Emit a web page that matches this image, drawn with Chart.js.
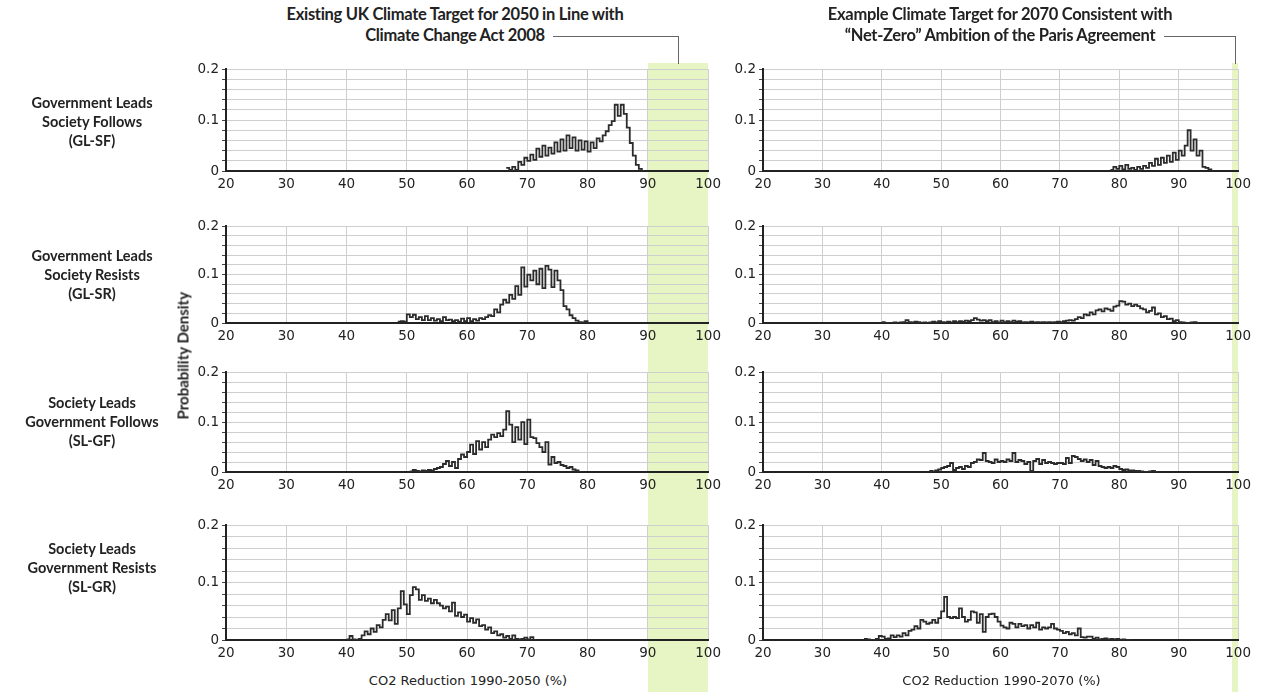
<!DOCTYPE html>
<html>
<head>
<meta charset="utf-8">
<script src="https://cdn.jsdelivr.net/npm/chart.js@4.4.1/dist/chart.umd.min.js"></script>
<style>
  body { margin: 0; background: #fff; }
  #stage { position: relative; width: 1270px; height: 692px; overflow: hidden; font-family: "DejaVu Sans", sans-serif; }
  .box { position: absolute; }
  .band { position: absolute; background: rgb(231, 245, 197); }
  .lbl { position: absolute; font-family: Lato, sans-serif; font-weight: bold; font-size: 14.5px; color: #222; text-align: center; line-height: 19px; white-space: nowrap; }
  .ttl { position: absolute; font-family: Lato, sans-serif; font-weight: bold; font-size: 16.5px; color: #222; text-align: center; line-height: 21px; white-space: nowrap; letter-spacing: -0.3px; }
  .axt { position: absolute; font-size: 13px; color: #222; white-space: nowrap; }
  .lead { position: absolute; border-color: #666; border-style: solid; border-width: 0; }
</style>
</head>
<body>
<div id="stage"></div>
<script>
// histogram bins are 0.5 % wide, each series lists its first bin edge
const binWidth = 0.5;
const xTicks = [20, 30, 40, 50, 60, 70, 80, 90, 100];
const yLabels = ["0", "0.1", "0.2"];
const rowNames = [
  ["Government Leads", "Society Follows", "(GL-SF)"],
  ["Government Leads", "Society Resists", "(GL-SR)"],
  ["Society Leads", "Government Follows", "(SL-GF)"],
  ["Society Leads", "Government Resists", "(SL-GR)"]
];
const colTitles = [
  ["Existing UK Climate Target for 2050 in Line with", "Climate Change Act 2008"],
  ["Example Climate Target for 2070 Consistent with", "\u201cNet-Zero\u201d Ambition of the Paris Agreement"]
];
const xTitles = ["CO2 Reduction 1990-2050 (%)", "CO2 Reduction 1990-2070 (%)"];
const targetBands = [[90, 100], [99, 100]];

const glsf2050Start = 66.5;
const glsf2050 = [0.006, 0.002, 0.008, 0.002, 0.018, 0.012, 0.026, 0.02, 0.032, 0.022,
  0.044, 0.028, 0.05, 0.03, 0.046, 0.034, 0.056, 0.038, 0.062, 0.04,
  0.07, 0.045, 0.066, 0.04, 0.06, 0.042, 0.058, 0.038, 0.056, 0.045,
  0.064, 0.058, 0.07, 0.078, 0.09, 0.098, 0.13, 0.108, 0.13, 0.112,
  0.085, 0.055, 0.03, 0.012, 0.004, 0];

const glsf2070Start = 78.5;
const glsf2070 = [0.002, 0.008, 0.004, 0.01, 0.003, 0.012, 0.004, 0.006, 0.002, 0.008,
  0.004, 0.01, 0.006, 0.016, 0.01, 0.024, 0.012, 0.026, 0.016, 0.03,
  0.018, 0.036, 0.022, 0.04, 0.03, 0.05, 0.08, 0.04, 0.062, 0.03,
  0.04, 0.008, 0.006, 0.003, 0];

const glsr2050Start = 48.5;
const glsr2050 = [0.003, 0.004, 0.003, 0.018, 0.012, 0.017, 0.008, 0.012, 0.006, 0.014,
  0.006, 0.01, 0.005, 0.008, 0.004, 0.012, 0.006, 0.007, 0.004, 0.006,
  0.003, 0.009, 0.004, 0.01, 0.004, 0.008, 0.005, 0.01, 0.008, 0.012,
  0.016, 0.014, 0.028, 0.022, 0.038, 0.048, 0.042, 0.058, 0.05, 0.076,
  0.058, 0.115, 0.075, 0.1, 0.088, 0.108, 0.08, 0.112, 0.072, 0.118,
  0.11, 0.074, 0.108, 0.088, 0.068, 0.035, 0.028, 0.016, 0.01, 0.005,
  0.002, 0.001, 0.004, 0];

const glsr2070Start = 40;
const glsr2070 = [0.002, 0, 0, 0, 0.001, 0, 0.001, 0.002, 0.006, 0.002,
  0.001, 0.003, 0.002, 0, 0.001, 0, 0.001, 0.003, 0.001, 0.004,
  0.002, 0.001, 0.003, 0.001, 0.004, 0.002, 0.004, 0.003, 0.005, 0.004,
  0.006, 0.01, 0.007, 0.005, 0.006, 0.004, 0.006, 0.002, 0.004, 0.001,
  0.005, 0.002, 0.004, 0.002, 0.005, 0.003, 0.004, 0.001, 0.002, 0.001,
  0.003, 0.001, 0.002, 0.001, 0.002, 0.001, 0.002, 0.001, 0.002, 0.003,
  0.002, 0.004, 0.005, 0.006, 0.005, 0.008, 0.012, 0.01, 0.018, 0.016,
  0.022, 0.018, 0.026, 0.028, 0.024, 0.03, 0.028, 0.025, 0.034, 0.036,
  0.045, 0.044, 0.038, 0.04, 0.035, 0.038, 0.035, 0.03, 0.028, 0.022,
  0.025, 0.032, 0.018, 0.02, 0.012, 0.014, 0.008, 0.009, 0.004, 0.006,
  0.002, 0.001, 0, 0, 0.001, 0.002, 0];

const slgf2050Start = 50.5;
const slgf2050 = [0.001, 0.004, 0.002, 0.001, 0.003, 0.002, 0.004, 0.003, 0.006, 0.008,
  0.01, 0.016, 0.022, 0.012, 0.02, 0.008, 0.026, 0.035, 0.03, 0.04,
  0.055, 0.036, 0.062, 0.045, 0.06, 0.05, 0.065, 0.075, 0.07, 0.078,
  0.072, 0.085, 0.122, 0.095, 0.06, 0.09, 0.065, 0.1, 0.056, 0.105,
  0.07, 0.068, 0.058, 0.05, 0.04, 0.06, 0.015, 0.03, 0.018, 0.02,
  0.014, 0.012, 0.008, 0.01, 0.005, 0.003, 0];

const slgf2070Start = 48;
const slgf2070 = [0.002, 0.001, 0.003, 0.005, 0.008, 0.01, 0.012, 0.018, 0.004, 0.008,
  0.01, 0.006, 0.012, 0.01, 0.018, 0.02, 0.025, 0.024, 0.038, 0.022,
  0.02, 0.018, 0.025, 0.02, 0.022, 0.02, 0.025, 0.022, 0.038, 0.02,
  0.024, 0.022, 0.016, 0.02, 0.002, 0.022, 0.026, 0.016, 0.024, 0.018,
  0.02, 0.018, 0.016, 0.018, 0.018, 0.016, 0.028, 0.018, 0.032, 0.03,
  0.026, 0.022, 0.025, 0.02, 0.024, 0.014, 0.022, 0.012, 0.01, 0.008,
  0.01, 0.008, 0.012, 0.01, 0.006, 0.004, 0.005, 0.003, 0.003, 0.002,
  0.002, 0.001, 0, 0, 0.001, 0.002, 0];

const slgr2050Start = 40;
const slgr2050 = [0.001, 0.007, 0.001, 0, 0.002, 0.008, 0.015, 0.01, 0.02, 0.014,
  0.026, 0.022, 0.035, 0.045, 0.034, 0.052, 0.028, 0.055, 0.085, 0.062,
  0.045, 0.078, 0.092, 0.088, 0.07, 0.078, 0.068, 0.072, 0.064, 0.07,
  0.064, 0.06, 0.055, 0.058, 0.05, 0.065, 0.042, 0.048, 0.04, 0.044,
  0.032, 0.038, 0.03, 0.036, 0.024, 0.026, 0.018, 0.022, 0.012, 0.015,
  0.008, 0.01, 0.004, 0.007, 0.002, 0.008, 0.002, 0.001, 0.002, 0.004,
  0.001, 0.005, 0];

const slgr2070Start = 37;
const slgr2070 = [0.002, 0.001, 0, 0, 0.002, 0.007, 0.006, 0.002, 0.003, 0.008,
  0.005, 0.008, 0.006, 0.012, 0.008, 0.016, 0.018, 0.024, 0.02, 0.035,
  0.032, 0.028, 0.03, 0.035, 0.03, 0.038, 0.05, 0.075, 0.04, 0.038,
  0.04, 0.038, 0.055, 0.04, 0.032, 0.035, 0.05, 0.048, 0.03, 0.045,
  0.014, 0.04, 0.045, 0.046, 0.04, 0.032, 0.025, 0.022, 0.02, 0.03,
  0.028, 0.022, 0.028, 0.024, 0.026, 0.02, 0.026, 0.022, 0.03, 0.018,
  0.022, 0.02, 0.022, 0.028, 0.02, 0.018, 0.016, 0.012, 0.014, 0.01,
  0.012, 0.008, 0.02, 0.005, 0.004, 0.006, 0.006, 0.002, 0.004, 0.001,
  0.002, 0.003, 0.001, 0.002, 0.001, 0.002, 0, 0.001, 0, 0];

// panels[row][col]
const panels = [
  [[glsf2050Start, glsf2050], [glsf2070Start, glsf2070]],
  [[glsr2050Start, glsr2050], [glsr2070Start, glsr2070]],
  [[slgf2050Start, slgf2050], [slgf2070Start, slgf2070]],
  [[slgr2050Start, slgr2050], [slgr2070Start, slgr2070]]
];

// plot-area placement on the page
const cols = [{ left: 226, right: 710, titleMid: 455 }, { left: 763, right: 1240, titleMid: 1000 }];
const rows = [{ top: 68, bottom: 171 }, { top: 225, bottom: 323 }, { top: 371, bottom: 472 }, { top: 524, bottom: 640 }];
const padL = 45, padR = 16, padT = 10, padB = 26;

const stage = document.getElementById("stage");

function add(cls, css, html) {
  const d = document.createElement("div");
  d.className = cls;
  Object.assign(d.style, css);
  if (html !== undefined) d.innerHTML = html;
  stage.appendChild(d);
  return d;
}

// green target bands go behind the charts, placed from the chart scales later
const bandDivs = cols.map(() => add("band", {}));

function toPoints(start, values) {
  const pts = values.map((v, i) => ({ x: start + i * binWidth, y: v }));
  pts.push({ x: start + values.length * binWidth, y: 0 });
  return pts;
}

const tickFont = { family: "DejaVu Sans", size: 13.5 };

const charts = [];
rows.forEach((r, ri) => {
  cols.forEach((c, ci) => {
    const w = c.right - c.left + padL + padR;
    const h = r.bottom - r.top + padT + padB;
    const box = add("box", { left: (c.left - padL) + "px", top: (r.top - padT) + "px", width: w + "px", height: h + "px" });
    const cv = document.createElement("canvas");
    box.appendChild(cv);
    const [start, values] = panels[ri][ci];
    const chart = new Chart(cv, {
      type: "line",
      data: {
        datasets: [{
          data: toPoints(start, values),
          borderColor: "#2b2b2b",
          borderWidth: 1.8,
          stepped: true,
          pointRadius: 0,
          fill: false
        }]
      },
      options: {
        responsive: true,
        maintainAspectRatio: false,
        animation: false,
        layout: { padding: { top: padT, right: padR, left: 0, bottom: 0 } },
        plugins: { legend: { display: false }, tooltip: { enabled: false } },
        scales: {
          x: {
            type: "linear",
            min: xTicks[0],
            max: xTicks[xTicks.length - 1],
            afterFit: (s) => { s.height = padB; },
            afterBuildTicks: (s) => { s.ticks = xTicks.map((v) => ({ value: v })); },
            ticks: { padding: 5, color: "#222", font: tickFont, maxRotation: 0, autoSkip: false },
            grid: { color: "#cfcfcf", lineWidth: 1, drawTicks: false },
            border: { color: "#222", width: 2 }
          },
          y: {
            min: 0,
            max: 0.2,
            afterFit: (s) => { s.width = padL; },
            ticks: {
              stepSize: 0.02,
              autoSkip: false,
              padding: 3,
              color: "#222",
              font: tickFont,
              callback: (v) => {
                const k = Math.round(v * 100);
                return k % 10 === 0 ? yLabels[k / 10] : "";
              }
            },
            grid: { color: "#cfcfcf", lineWidth: 1, tickColor: "#444", tickLength: 4 },
            border: { color: "#222", width: 2 }
          }
        }
      }
    });
    charts.push({ chart, ri, ci, box });
  });
});

// row labels
const rowLabelY = [121, 274, 421, 567];
rowNames.forEach((lines, i) => {
  add("lbl", { left: "0px", width: "184px", top: (rowLabelY[i] - 28) + "px" }, lines.join("<br>"));
});

// y axis title
add("lbl", { left: "123px", top: "350px", width: "120px", transform: "rotate(-90deg)", fontSize: "15px" }, "Probability Density");

// column titles, x titles, bands and leader lines from the top chart scales
cols.forEach((c, ci) => {
  const top = charts.find((o) => o.ri === 0 && o.ci === ci);
  const sx = top.chart.scales.x;
  const offX = c.left - padL;
  const x0 = offX + sx.getPixelForValue(targetBands[ci][0]);
  const x1 = offX + sx.getPixelForValue(targetBands[ci][1]);
  const bandTop = rows[0].top - 5;
  Object.assign(bandDivs[ci].style, { left: x0 + "px", width: (x1 - x0) + "px", top: bandTop + "px", height: (692 - bandTop) + "px" });

  const mid = c.titleMid;
  add("ttl", { left: (mid - 250) + "px", width: "500px", top: "4px" }, colTitles[ci].join("<br>"));
  // measure second title line to hook the leader line onto it
  const probe = add("ttl", { visibility: "hidden", width: "auto" }, colTitles[ci][1]);
  const lineW = probe.offsetWidth;
  probe.remove();
  const lineEnd = mid + lineW / 2 + 8;
  const bandMid = (x0 + x1) / 2;
  add("lead", { left: lineEnd + "px", top: "36px", width: (bandMid - lineEnd) + "px", height: (bandTop - 36) + "px", borderTopWidth: "1px", borderRightWidth: "1px" });

  const axMid = (c.left + c.right) / 2;
  add("axt", { left: (axMid - 150) + "px", width: "300px", top: "673px", textAlign: "center" }, xTitles[ci]);
});
</script>
</body>
</html>
